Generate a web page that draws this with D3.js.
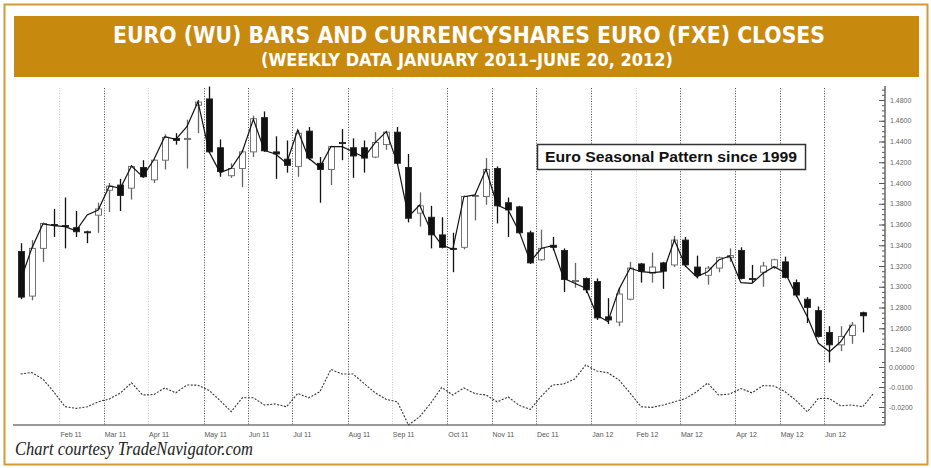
<!DOCTYPE html>
<html>
<head>
<meta charset="utf-8">
<script src="https://cdn.jsdelivr.net/npm/d3@7"></script>
<style>
  body { margin: 0; background: #fff; }
</style>
</head>
<body>
<div id="chart"></div>
<script>
// weekly Euro (WU) bars, Jan 7 2011 .. Jun 22 2012
let open = [1.334,1.291,1.337,1.360,1.359,1.357,1.353,1.369,1.393,1.398,1.395,1.415,1.403,1.422,1.443,1.442,1.475,1.481,1.434,1.407,
  1.414,1.430,1.463,1.430,1.423,1.416,1.450,1.419,1.413,1.439,1.434,1.434,1.425,1.437,1.449,1.415,1.371,1.367,1.350,1.337,
  1.338,1.387,1.387,1.414,1.381,1.377,1.352,1.326,1.340,1.335,1.305,1.308,1.305,1.271,1.266,1.288,1.322,1.313,1.323,1.321,
  1.345,1.319,1.311,1.318,1.328,1.335,1.308,1.314,1.319,1.324,1.304,1.288,1.277,1.256,1.244,1.253,1.275];
let high = [1.342,1.345,1.362,1.375,1.386,1.373,1.354,1.381,1.400,1.404,1.417,1.422,1.423,1.447,1.448,1.461,1.480,1.493,1.442,1.419,
  1.432,1.465,1.469,1.445,1.441,1.451,1.454,1.425,1.436,1.452,1.443,1.441,1.449,1.450,1.454,1.428,1.391,1.378,1.367,1.352,
  1.388,1.390,1.424,1.416,1.386,1.378,1.354,1.355,1.348,1.337,1.323,1.309,1.308,1.289,1.299,1.324,1.323,1.333,1.324,1.349,
  1.348,1.330,1.320,1.329,1.337,1.338,1.321,1.324,1.327,1.329,1.307,1.290,1.281,1.262,1.262,1.266,1.276];
let low = [1.288,1.287,1.324,1.348,1.337,1.348,1.342,1.352,1.372,1.373,1.384,1.405,1.400,1.413,1.437,1.414,1.448,1.429,1.406,1.405,
  1.396,1.425,1.430,1.404,1.410,1.406,1.422,1.381,1.398,1.422,1.405,1.410,1.424,1.432,1.418,1.362,1.358,1.337,1.337,1.314,
  1.336,1.364,1.379,1.361,1.348,1.351,1.322,1.325,1.335,1.295,1.299,1.294,1.268,1.264,1.262,1.287,1.304,1.304,1.298,1.319,
  1.319,1.308,1.302,1.314,1.324,1.307,1.304,1.300,1.317,1.308,1.290,1.265,1.251,1.227,1.238,1.245,1.256];
let close = [1.290,1.337,1.361,1.359,1.358,1.353,1.352,1.375,1.397,1.388,1.416,1.406,1.422,1.444,1.441,1.443,1.478,1.430,1.411,1.414,
  1.430,1.462,1.431,1.428,1.417,1.448,1.424,1.413,1.435,1.438,1.426,1.424,1.439,1.449,1.419,1.366,1.378,1.350,1.338,1.336,
  1.387,1.388,1.413,1.378,1.374,1.352,1.323,1.337,1.338,1.307,1.306,1.297,1.270,1.268,1.293,1.318,1.315,1.319,1.315,1.345,
  1.321,1.311,1.318,1.328,1.330,1.308,1.307,1.320,1.326,1.309,1.292,1.280,1.252,1.244,1.252,1.263,1.272];

// CurrencyShares Euro (FXE) weekly closes
let fxe = [130.65,133.71,136.05,135.89,135.79,135.40,136.92,137.40,139.71,139.49,141.64,140.61,142.22,144.47,144.21,145.43,147.84,143.02,141.00,141.42,
  143.02,146.14,143.12,142.80,141.90,145.11,142.38,141.52,143.50,143.50,143.02,142.48,143.89,144.95,141.90,136.75,137.88,135.47,134.03,133.61,
  138.68,138.85,141.32,137.88,137.40,135.31,132.42,133.71,133.96,130.82,130.33,129.85,127.28,126.63,129.76,131.78,131.45,131.36,131.45,134.51,
  132.00,130.97,131.45,132.58,132.97,130.39,130.33,131.30,131.93,131.36,129.21,127.11,124.55,123.74,124.70,126.31];

// Euro seasonal pattern since 1999 (one week beyond the last bar)
let seasonal = [-0.0035,-0.00275,-0.006,-0.0125,-0.0198,-0.0207,-0.0199,-0.0174,-0.016,-0.013,
  -0.0079,-0.014,-0.0138,-0.0105,-0.0129,-0.009,-0.0091,-0.0117,-0.0168,-0.0223,
  -0.0154,-0.0154,-0.019,-0.0185,-0.0199,-0.0132,-0.0154,-0.0124,-0.0012,-0.0035,
  -0.0035,-0.0083,-0.0129,-0.0162,-0.0174,-0.029,-0.0249,-0.0182,-0.0102,-0.014,
  -0.0105,-0.0133,-0.014,-0.0174,-0.015,-0.0192,-0.0212,-0.0145,-0.009,-0.0085,
  -0.006,0.001,-0.002,-0.0029,-0.0065,-0.013,-0.0199,-0.0202,-0.019,-0.0174,
  -0.0158,-0.0124,-0.008,-0.014,-0.0135,-0.0108,-0.0129,-0.0093,-0.0095,-0.0124,
  -0.0168,-0.0224,-0.0157,-0.0158,-0.0194,-0.019,-0.0199,-0.013];

let monthLabels = ["Feb 11","Mar 11","Apr 11","May 11","Jun 11","Jul 11","Aug 11","Sep 11","Oct 11","Nov 11","Dec 11",
  "Jan 12","Feb 12","Mar 12","Apr 12","May 12","Jun 12"];
let priceTicks = [1.48,1.46,1.44,1.42,1.40,1.38,1.36,1.34,1.32,1.30,1.28,1.26,1.24];
let seasonalTicks = [0, -0.01, -0.02];
let seasonalTickLabels = ["0.00000","-0.0100","-0.0200"];

let title = "EURO (WU) BARS AND CURRENCYSHARES EURO (FXE) CLOSES";
let subtitle = "(WEEKLY DATA JANUARY 2011\u2013JUNE 20, 2012)";

// weekly (Friday) dates for each bar
let weeks = d3.timeFriday.range(new Date(2011, 0, 7), new Date(2012, 5, 30));

let svg = d3.select("#chart").append("svg")
  .attr("width", 931)
  .attr("height", 468);

// outer frame
svg.append("rect")
  .attr("x", 4.5).attr("y", 4.5)
  .attr("width", 923).attr("height", 460)
  .attr("fill", "#fff")
  .attr("stroke", "#d49a34")
  .attr("stroke-width", 2);

// title band
svg.append("rect")
  .attr("x", 14).attr("y", 16)
  .attr("width", 905).attr("height", 61)
  .attr("fill", "#c8890f");

svg.append("text")
  .attr("x", 469).attr("y", 43)
  .attr("text-anchor", "middle")
  .attr("textLength", 712)
  .attr("lengthAdjust", "spacingAndGlyphs")
  .style("font", "bold 23px 'Liberation Sans Narrow', 'DejaVu Sans Condensed', sans-serif")
  .style("fill", "#fff")
  .text(title);

svg.append("text")
  .attr("x", 467).attr("y", 66)
  .attr("text-anchor", "middle")
  .attr("textLength", 412)
  .attr("lengthAdjust", "spacingAndGlyphs")
  .style("font", "bold 17px 'Liberation Sans Narrow', 'DejaVu Sans Condensed', sans-serif")
  .style("fill", "#fff")
  .text(subtitle);

// scales
let x = d3.scaleLinear().domain([0, 77]).range([20.7, 873.8]);
let y = d3.scaleLinear().domain([1.24, 1.48]).range([349, 100]);
let yFxe = d3.scaleLinear().domain([124, 148]).range([349, 100]);
let ySeas = d3.scaleLinear().domain([0, -0.02]).range([367, 407]);

let axisX = 885, bottomY = 425, topY = 88;

// month separators
let lightMonths = ["Feb 11", "Apr 11", "Sep 11", "Feb 12"];
let bounds = [];
weeks.forEach(function(d, i) {
  if (i > 0 && d.getMonth() != weeks[i - 1].getMonth()) bounds.push(i);
});
bounds = bounds.slice(0, monthLabels.length);

let months = svg.append("g");
months.selectAll("line")
  .data(bounds)
  .enter().append("line")
  .attr("x1", function(d) { return Math.round(x(d - 0.5)) + 0.5; })
  .attr("x2", function(d) { return Math.round(x(d - 0.5)) + 0.5; })
  .attr("y1", topY).attr("y2", bottomY)
  .attr("stroke", function(d, i) { return lightMonths.indexOf(monthLabels[i]) >= 0 ? "#c8c8c8" : "#444"; })
  .attr("stroke-width", 1)
  .attr("stroke-dasharray", "1,1.6");

months.selectAll("text")
  .data(bounds)
  .enter().append("text")
  .attr("x", function(d) { return x(d - 0.5) + 1; })
  .attr("y", 437)
  .style("font", "7px 'Liberation Sans', Arial, sans-serif")
  .style("fill", "#555")
  .text(function(d, i) { return monthLabels[i]; });

// bottom and right axis lines
svg.append("line")
  .attr("x1", 13).attr("x2", axisX)
  .attr("y1", bottomY).attr("y2", bottomY)
  .attr("stroke", "#777").attr("stroke-width", 1.5);

let yAxis = d3.axisLeft(y).tickValues(priceTicks).tickSize(6).tickFormat("");
let yMinor = d3.axisLeft(y).tickValues(d3.range(1.24, 1.4926, 0.005)).tickSize(3).tickFormat("");
let sAxis = d3.axisLeft(ySeas).tickValues(seasonalTicks).tickSize(6).tickFormat("");
let sMinor = d3.axisLeft(ySeas).tickValues(d3.range(0.0025, -0.029, -0.0025)).tickSize(3).tickFormat("");

[yAxis, yMinor, sAxis, sMinor].forEach(function(ax) {
  let g = svg.append("g")
    .attr("transform", "translate(" + axisX + ",0)")
    .call(ax);
  g.select(".domain").remove();
  g.selectAll("line").attr("stroke", "#555");
});

svg.append("line")
  .attr("x1", axisX).attr("x2", axisX)
  .attr("y1", 86).attr("y2", bottomY)
  .attr("stroke", "#666").attr("stroke-width", 1.5);

svg.append("g").selectAll("text")
  .data(priceTicks)
  .enter().append("text")
  .attr("x", 890)
  .attr("y", function(d) { return y(d) + 2.5; })
  .style("font", "7px 'Liberation Sans', Arial, sans-serif")
  .style("fill", "#666")
  .text(function(d) { return d3.format(".4f")(d); });

svg.append("g").selectAll("text")
  .data(seasonalTicks)
  .enter().append("text")
  .attr("x", 889)
  .attr("y", function(d) { return ySeas(d) + 2.5; })
  .style("font", "7px 'Liberation Sans', Arial, sans-serif")
  .style("fill", "#666")
  .text(function(d, i) { return seasonalTickLabels[i]; });

// candles: down weeks solid black, up weeks hollow with a grey outline
let bars = d3.range(open.length);
let candles = svg.append("g");
let isDown = function(i) { return close[i] < open[i]; };

candles.selectAll("line")
  .data(bars)
  .enter().append("line")
  .attr("x1", function(i) { return Math.round(x(i)) + 0.5; })
  .attr("x2", function(i) { return Math.round(x(i)) + 0.5; })
  .attr("y1", function(i) { return y(high[i]); })
  .attr("y2", function(i) { return y(low[i]); })
  .attr("stroke", function(i) { return isDown(i) ? "#111" : "#666"; })
  .attr("stroke-width", 1.3);

candles.selectAll("rect")
  .data(bars)
  .enter().append("rect")
  .attr("x", function(i) { return Math.round(x(i)) - 2.5; })
  .attr("width", 6)
  .attr("y", function(i) { return y(Math.max(open[i], close[i])); })
  .attr("height", function(i) { return Math.max(1, Math.abs(y(open[i]) - y(close[i]))); })
  .attr("fill", function(i) { return isDown(i) ? "#111" : "#fff"; })
  .attr("stroke", function(i) { return isDown(i) ? "#222" : "#666"; })
  .attr("stroke-width", 0.9);

// FXE close line
let fxeLine = d3.line()
  .x(function(d, i) { return x(i); })
  .y(function(d) { return yFxe(d); });

svg.append("path")
  .datum(fxe)
  .attr("d", fxeLine)
  .attr("fill", "none")
  .attr("stroke", "#111")
  .attr("stroke-width", 1.2);

// seasonal pattern
let seasLine = d3.line()
  .x(function(d, i) { return x(i); })
  .y(function(d) { return ySeas(d); });

svg.append("path")
  .datum(seasonal)
  .attr("d", seasLine)
  .attr("fill", "none")
  .attr("stroke", "#333")
  .attr("stroke-width", 1.1)
  .attr("stroke-dasharray", "2,1.5");

// annotation
svg.append("rect")
  .attr("x", 537.5).attr("y", 144.5)
  .attr("width", 268).attr("height", 25)
  .attr("fill", "#fff")
  .attr("stroke", "#333")
  .attr("stroke-width", 1.5);

svg.append("text")
  .attr("x", 545).attr("y", 162)
  .attr("textLength", 252)
  .attr("lengthAdjust", "spacingAndGlyphs")
  .style("font", "bold 14px 'Liberation Sans', Arial, sans-serif")
  .style("fill", "#111")
  .text("Euro Seasonal Pattern since 1999");

// footer
svg.append("text")
  .attr("x", 15).attr("y", 455)
  .attr("textLength", 238)
  .attr("lengthAdjust", "spacingAndGlyphs")
  .style("font", "italic 18px 'Liberation Serif', 'Times New Roman', serif")
  .style("fill", "#222")
  .text("Chart courtesy TradeNavigator.com");
</script>
</body>
</html>
